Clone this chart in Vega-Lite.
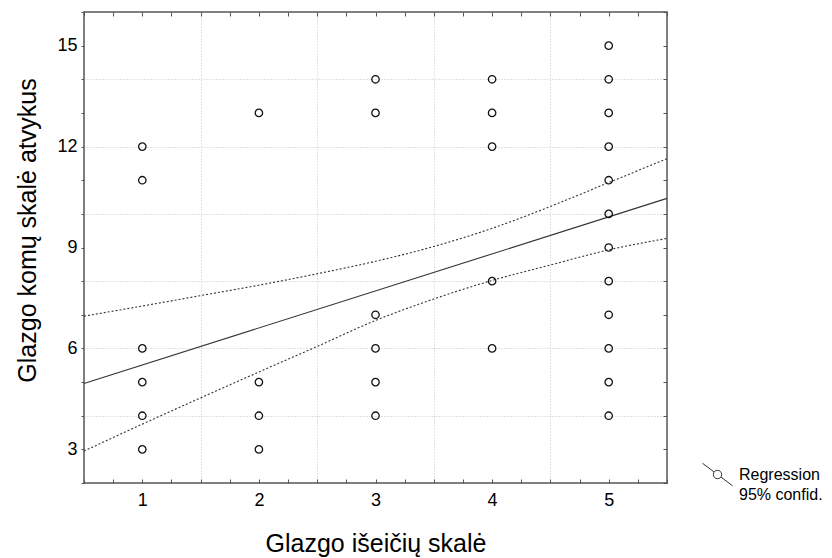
{
  "$schema": "https://vega.github.io/schema/vega-lite/v6.json",
  "width": 583,
  "height": 471,
  "autosize": {"type": "none"},
  "padding": {"left": 84, "top": 12, "right": 165, "bottom": 75},
  "background": "white",
  "config": {
    "view": {"stroke": "#555", "strokeWidth": 1.5},
    "font": "Liberation Sans",
    "axis": {"labelFont": "Liberation Sans", "titleFont": "Liberation Sans", "labelColor": "#000", "titleColor": "#000", "tickColor": "#555", "titleFontWeight": "normal"}
  },
  "datasets": {
    "points": [
      {"x": 1, "y": 12}, {"x": 1, "y": 11}, {"x": 1, "y": 6}, {"x": 1, "y": 5}, {"x": 1, "y": 4}, {"x": 1, "y": 3},
      {"x": 2, "y": 13}, {"x": 2, "y": 5}, {"x": 2, "y": 4}, {"x": 2, "y": 3},
      {"x": 3, "y": 14}, {"x": 3, "y": 13}, {"x": 3, "y": 7}, {"x": 3, "y": 6}, {"x": 3, "y": 5}, {"x": 3, "y": 4},
      {"x": 4, "y": 14}, {"x": 4, "y": 13}, {"x": 4, "y": 12}, {"x": 4, "y": 8}, {"x": 4, "y": 6},
      {"x": 5, "y": 15}, {"x": 5, "y": 14}, {"x": 5, "y": 13}, {"x": 5, "y": 12}, {"x": 5, "y": 11}, {"x": 5, "y": 10},
      {"x": 5, "y": 9}, {"x": 5, "y": 8}, {"x": 5, "y": 7}, {"x": 5, "y": 6}, {"x": 5, "y": 5}, {"x": 5, "y": 4}
    ],
    "reg": [
      {"x": 0.5, "y": 4.96, "series": "Regression"},
      {"x": 5.5, "y": 10.46, "series": "Regression"}
    ],
    "ci": [
      {"x": 0.5, "upper": 6.96, "lower": 2.95},
      {"x": 1.0, "upper": 7.26, "lower": 3.75},
      {"x": 1.5, "upper": 7.57, "lower": 4.53},
      {"x": 2.0, "upper": 7.88, "lower": 5.3},
      {"x": 2.5, "upper": 8.22, "lower": 6.06},
      {"x": 3.0, "upper": 8.59, "lower": 6.83},
      {"x": 3.5, "upper": 9.03, "lower": 7.47},
      {"x": 4.0, "upper": 9.57, "lower": 8.02},
      {"x": 4.5, "upper": 10.22, "lower": 8.48},
      {"x": 5.0, "upper": 10.93, "lower": 8.93},
      {"x": 5.5, "upper": 11.64, "lower": 9.27}
    ]
  },
  "resolve": {"axis": {"x": "independent", "y": "independent"}},
  "layer": [
    {
      "data": {"name": "ci"},
      "mark": {"type": "line", "stroke": "#333", "strokeWidth": 1.1, "strokeDash": [2, 2], "interpolate": "monotone"},
      "encoding": {
        "x": {"field": "x", "type": "quantitative", "scale": {"domain": [0.5, 5.5], "nice": false, "zero": false},
              "axis": {"orient": "bottom", "values": [0.5,0.75,1,1.25,1.5,1.75,2,2.25,2.5,2.75,3,3.25,3.5,3.75,4,4.25,4.5,4.75,5,5.25,5.5], "labels": false, "tickSize": -4, "domain": false, "grid": false, "title": null}},
        "y": {"field": "upper", "type": "quantitative", "scale": {"domain": [2, 16], "nice": false, "zero": false},
              "axis": {"orient": "left", "values": [4, 6, 8, 10, 12, 14], "labels": false, "ticks": false, "domain": false, "grid": true, "gridColor": "#c4c4c4", "gridDash": [1, 2], "gridWidth": 1, "title": null}}
      }
    },
    {
      "data": {"name": "ci"},
      "mark": {"type": "line", "stroke": "#333", "strokeWidth": 1.1, "strokeDash": [2, 2], "interpolate": "monotone"},
      "encoding": {
        "x": {"field": "x", "type": "quantitative", "scale": {"domain": [0.5, 5.5], "nice": false, "zero": false},
              "axis": {"orient": "top", "values": [1.5, 2.5, 3.5, 4.5], "labels": false, "ticks": false, "domain": false, "grid": true, "gridColor": "#c4c4c4", "gridDash": [1, 2], "gridWidth": 1, "title": null}},
        "y": {"field": "lower", "type": "quantitative", "scale": {"domain": [2, 16], "nice": false, "zero": false}, "axis": null}
      }
    },
    {
      "data": {"name": "reg"},
      "mark": {"type": "line", "strokeWidth": 1.1},
      "encoding": {
        "x": {"field": "x", "type": "quantitative", "scale": {"domain": [0.5, 5.5], "nice": false, "zero": false},
              "axis": {"orient": "top", "values": [0.5,0.75,1,1.25,1.5,1.75,2,2.25,2.5,2.75,3,3.25,3.5,3.75,4,4.25,4.5,4.75,5,5.25,5.5], "labels": false, "tickSize": -4, "domain": false, "grid": false, "title": null}},
        "y": {"field": "y", "type": "quantitative", "scale": {"domain": [2, 16], "nice": false, "zero": false},
              "axis": {"orient": "right", "values": [2,3,4,5,6,7,8,9,10,11,12,13,14,15,16], "labels": false, "tickSize": -4, "domain": false, "grid": false, "title": null}},
        "stroke": {"field": "series", "type": "nominal", "scale": {"range": ["#333333"]},
                   "legend": {"orient": "none", "legendX": 618, "legendY": 447, "title": null,
                              "symbolType": "M-1,-0.75L-0.24,-0.18M0.24,0.18L1,0.75M0.28,0A0.28,0.28,0,1,1,-0.28,0A0.28,0.28,0,1,1,0.28,0Z",
                              "symbolSize": 900, "symbolStrokeColor": "#333", "symbolFillColor": "transparent", "symbolStrokeWidth": 1,
                              "labelFont": "Liberation Sans", "labelFontSize": 16, "labelColor": "#000", "labelOffset": 6,
                              "labelExpr": "['Regression', '95% confid.']",
                              "labelLimit": 200,
                              "encode": {"labels": {"update": {"lineHeight": {"value": 20}}}}}}
      }
    },
    {
      "data": {"name": "points"},
      "mark": {"type": "point", "shape": "circle", "filled": false, "size": 55, "stroke": "#111", "strokeWidth": 1.3, "opacity": 1},
      "encoding": {
        "x": {"field": "x", "type": "quantitative", "scale": {"domain": [0.5, 5.5], "nice": false, "zero": false},
              "axis": {"orient": "bottom", "values": [1, 2, 3, 4, 5], "ticks": false, "domain": false, "grid": false, "labelFontSize": 18, "labelPadding": 8, "title": "Glazgo išeičių skalė", "titleFontSize": 25, "titlePadding": 22}},
        "y": {"field": "y", "type": "quantitative", "scale": {"domain": [2, 16], "nice": false, "zero": false},
              "axis": {"orient": "left", "values": [2,3,4,5,6,7,8,9,10,11,12,13,14,15,16], "labelExpr": "datum.value % 3 == 0 ? datum.label : ''", "tickSize": 3, "domain": false, "grid": false, "labelFontSize": 18, "labelPadding": 4, "title": "Glazgo komų skalė atvykus", "titleFontSize": 25, "titlePadding": 16, "titleY": 218}}
      }
    }
  ]
}
